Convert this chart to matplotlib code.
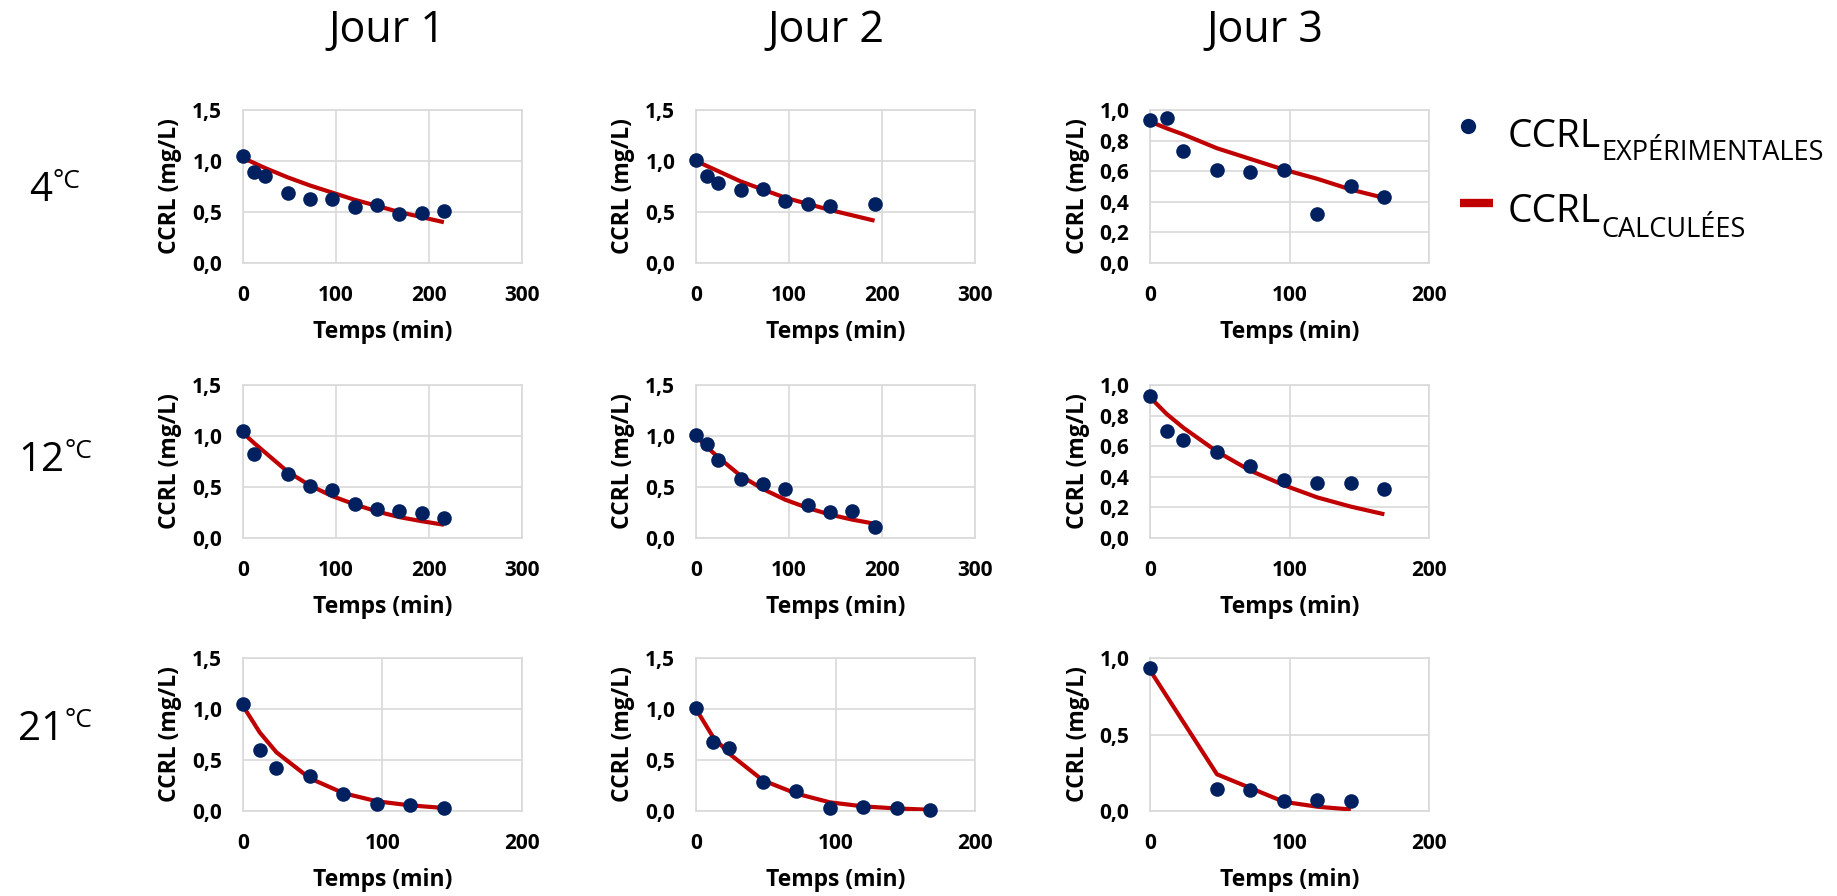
import matplotlib
matplotlib.use("Agg")
import matplotlib.pyplot as plt
from matplotlib.ticker import FuncFormatter, MultipleLocator

# ---------------- data ----------------
temperatures = ["4", "12", "21"]
days = ["Jour 1", "Jour 2", "Jour 3"]

# 4 °C
t_4_j1 = [0, 12, 24, 48, 72, 96, 120, 144, 168, 192, 216]
exp_4_j1 = [1.05, 0.89, 0.85, 0.69, 0.63, 0.63, 0.545, 0.57, 0.48, 0.49, 0.51]
calc_4_j1 = [1.03, 0.98, 0.93, 0.84, 0.76, 0.69, 0.62, 0.56, 0.50, 0.45, 0.40]

t_4_j2 = [0, 12, 24, 48, 72, 96, 120, 144, 192]
exp_4_j2 = [1.01, 0.85, 0.78, 0.72, 0.73, 0.61, 0.58, 0.56, 0.58]
calc_4_j2 = [1.00, 0.95, 0.90, 0.80, 0.72, 0.64, 0.58, 0.52, 0.415]

t_4_j3 = [0, 12, 24, 48, 72, 96, 120, 144, 168]
exp_4_j3 = [0.935, 0.945, 0.73, 0.61, 0.595, 0.61, 0.32, 0.50, 0.43]
calc_4_j3 = [0.925, 0.88, 0.84, 0.75, 0.68, 0.61, 0.55, 0.48, 0.425]

# 12 °C
t_12_j1 = [0, 12, 48, 72, 96, 120, 144, 168, 192, 216]
exp_12_j1 = [1.05, 0.82, 0.63, 0.51, 0.47, 0.33, 0.28, 0.26, 0.25, 0.20]
calc_12_j1 = [1.03, 0.93, 0.65, 0.515, 0.41, 0.33, 0.26, 0.205, 0.165, 0.13]

t_12_j2 = [0, 12, 24, 48, 72, 96, 120, 144, 168, 192]
exp_12_j2 = [1.005, 0.92, 0.765, 0.575, 0.525, 0.485, 0.325, 0.255, 0.26, 0.11]
calc_12_j2 = [1.00, 0.89, 0.79, 0.61, 0.48, 0.375, 0.295, 0.23, 0.18, 0.14]

t_12_j3 = [0, 12, 24, 48, 72, 96, 120, 144, 168]
exp_12_j3 = [0.93, 0.70, 0.64, 0.56, 0.47, 0.38, 0.36, 0.36, 0.32]
calc_12_j3 = [0.92, 0.81, 0.72, 0.565, 0.44, 0.345, 0.265, 0.205, 0.155]

# 21 °C
t_21_j1 = [0, 12, 24, 48, 72, 96, 120, 144]
exp_21_j1 = [1.05, 0.60, 0.42, 0.345, 0.17, 0.07, 0.06, 0.03]
calc_21_j1 = [1.03, 0.77, 0.575, 0.32, 0.175, 0.095, 0.055, 0.03]

t_21_j2 = [0, 12, 24, 48, 72, 96, 120, 144, 168]
exp_21_j2 = [1.005, 0.68, 0.615, 0.28, 0.20, 0.025, 0.04, 0.03, 0.01]
calc_21_j2 = [1.00, 0.73, 0.56, 0.30, 0.17, 0.085, 0.045, 0.025, 0.012]

t_21_j3 = [0, 48, 72, 96, 120, 144]
exp_21_j3 = [0.935, 0.145, 0.135, 0.065, 0.07, 0.065]
calc_21_j3 = [0.92, 0.24, 0.15, 0.06, 0.028, 0.01]

# axis ranges per panel: (xmax, xstep, ymax, ystep)
axis_4 = [(300, 100, 1.5, 0.5), (300, 100, 1.5, 0.5), (200, 100, 1.0, 0.2)]
axis_12 = [(300, 100, 1.5, 0.5), (300, 100, 1.5, 0.5), (200, 100, 1.0, 0.2)]
axis_21 = [(200, 100, 1.5, 0.5), (200, 100, 1.5, 0.5), (200, 100, 1.0, 0.5)]

panels = [
    [(t_4_j1, exp_4_j1, calc_4_j1), (t_4_j2, exp_4_j2, calc_4_j2), (t_4_j3, exp_4_j3, calc_4_j3)],
    [(t_12_j1, exp_12_j1, calc_12_j1), (t_12_j2, exp_12_j2, calc_12_j2), (t_12_j3, exp_12_j3, calc_12_j3)],
    [(t_21_j1, exp_21_j1, calc_21_j1), (t_21_j2, exp_21_j2, calc_21_j2), (t_21_j3, exp_21_j3, calc_21_j3)],
]
axes_specs = [axis_4, axis_12, axis_21]

# ---------------- style ----------------
W, H, DPI = 1837, 896, 100
plt.rcParams["font.family"] = ["Open Sans", "DejaVu Sans"]
NAVY = "#002060"
RED = "#C00000"
GRID = "#D9D9D9"

fig = plt.figure(figsize=(W / DPI, H / DPI), dpi=DPI)
fig.patch.set_facecolor("white")
renderer = fig.canvas.get_renderer()

col_left = [243, 696, 1150]
row_top = [110, 385, 658]
ax_w, ax_h = 279, 153

fmt = FuncFormatter(lambda v, p: f"{v:.1f}".replace(".", ","))

for r in range(3):
    for c in range(3):
        t, ex, ca = panels[r][c]
        xmax, xstep, ymax, ystep = axes_specs[r][c]
        ax = fig.add_axes([col_left[c] / W, 1 - (row_top[r] + ax_h) / H, ax_w / W, ax_h / H])
        ax.plot(t, ca, color=RED, lw=3.0, zorder=3, solid_capstyle="butt")
        ax.plot(t, ex, "o", color=NAVY, ms=10.5, zorder=4, clip_on=False, markeredgewidth=0)
        ax.set_xlim(0, xmax)
        ax.set_ylim(0, ymax)
        ax.xaxis.set_major_locator(MultipleLocator(xstep))
        ax.yaxis.set_major_locator(MultipleLocator(ystep))
        ax.yaxis.set_major_formatter(fmt)
        ax.grid(True, color=GRID, lw=1.2, zorder=0)
        ax.set_axisbelow(True)
        for s in ax.spines.values():
            s.set_color(GRID)
            s.set_linewidth(1.2)
        ax.tick_params(axis="x", length=0, pad=16, labelsize=15)
        ax.tick_params(axis="y", length=0, pad=15, labelsize=15)
        for lab in ax.get_xticklabels() + ax.get_yticklabels():
            lab.set_fontweight("bold")
        ax.set_xlabel("Temps (min)", fontsize=16.5, fontweight="bold", labelpad=10)
        ax.set_ylabel("CCRL (mg/L)", fontsize=16.5, fontweight="bold", labelpad=7)

# column titles
title_x = [387, 826, 1265]
for x, d in zip(title_x, days):
    fig.text(x / W, 1 - 42 / H, d, ha="center", va="baseline", fontsize=31)


def width_px(txt):
    return txt.get_window_extent(renderer=renderer).width


# row labels with superscript °C
row_base = [201, 471, 740]
for temp, yb in zip(temperatures, row_base):
    main = fig.text(0, 1 - yb / H, temp, ha="left", va="baseline", fontsize=29)
    sup = fig.text(0, 1 - (yb - 13) / H, "°C", ha="left", va="baseline", fontsize=19)
    wm, ws = width_px(main), width_px(sup)
    x0 = 55 - (wm + ws) / 2
    main.set_x(x0 / W)
    sup.set_x((x0 + wm) / W)

# legend (manual)
fig.add_artist(plt.Line2D([1468 / W], [1 - 126 / H], marker="o", color=NAVY, ms=11,
                          markeredgewidth=0, linestyle="none"))
fig.add_artist(plt.Line2D([1460 / W, 1493 / W], [1 - 203 / H, 1 - 203 / H], color=RED,
                          lw=6, solid_capstyle="butt"))
for base, sub_base, sub in [(147, 160, "EXPÉRIMENTALES"), (222, 237, "CALCULÉES")]:
    m = fig.text(1508 / W, 1 - base / H, "CCRL", ha="left", va="baseline", fontsize=28)
    wm = width_px(m)
    fig.text((1508 + wm) / W, 1 - sub_base / H, sub, ha="left", va="baseline", fontsize=19.5)

fig.savefig("out.png", dpi=DPI, facecolor="white")
